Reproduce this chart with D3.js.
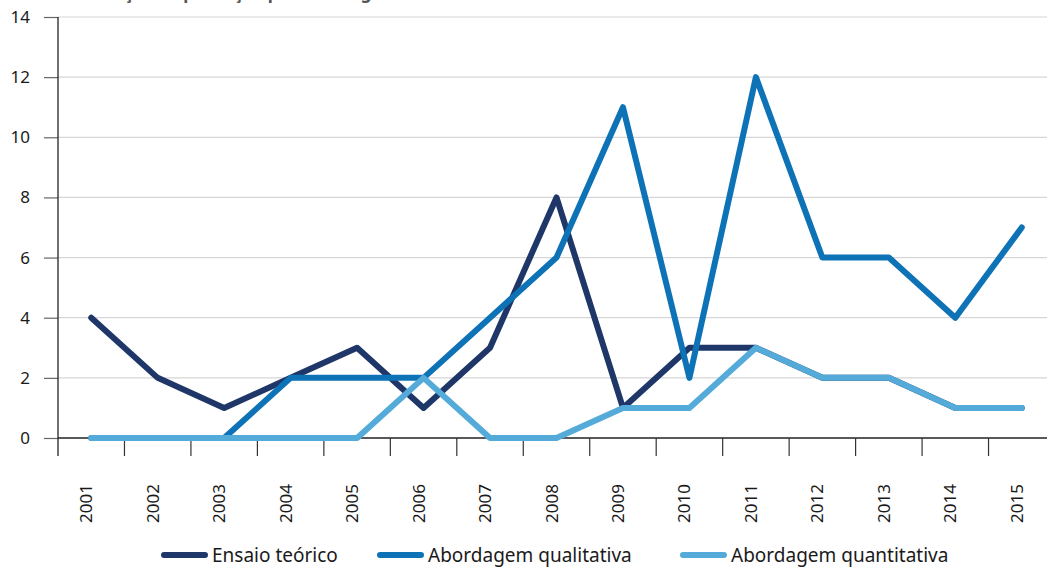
<!DOCTYPE html>
<html>
<head>
<meta charset="utf-8">
<script src="https://cdn.jsdelivr.net/npm/d3@7"></script>
<style>
  html, body { margin: 0; padding: 0; background: #fff; }
  svg { display: block; font-family: "Noto Sans", "Open Sans", sans-serif; }
</style>
</head>
<body>
<svg id="chart" width="1047" height="568"></svg>
<script>
const years = ["2001","2002","2003","2004","2005","2006","2007","2008","2009","2010","2011","2012","2013","2014","2015"];
const ensaioTeorico = [4,2,1,2,3,1,3,8,1,3,3,2,2,1,1];
const abordagemQualitativa = [0,0,0,2,2,2,4,6,11,2,12,6,6,4,7];
const abordagemQuantitativa = [0,0,0,0,0,2,0,0,1,1,3,2,2,1,1];
const yTicks = [0,2,4,6,8,10,12,14];
const seriesNames = ["Ensaio teórico","Abordagem qualitativa","Abordagem quantitativa"];
const seriesColors = ["#1f3768","#0e73b6","#54aad9"];
const titleText = "Evolução da produção por abordagem";

const svg = d3.select("#chart");
const W = 1047;
const x = d3.scaleBand().domain(years).range([58, 1055]).padding(0);
const y = d3.scaleLinear().domain([0,14]).range([438, 17]);
const cx = d => x(d) + x.bandwidth()/2;

// partially visible title at top (cut off by the top edge, as in the source)
svg.append("text").attr("x", 78).attr("y", -1)
  .attr("font-size", 17).attr("font-weight", "bold").attr("fill", "#555")
  .text(titleText);

// gridlines
svg.append("g").selectAll("line").data(yTicks.filter(v => v > 0)).join("line")
  .attr("x1", 58).attr("x2", W).attr("y1", d => y(d)).attr("y2", d => y(d))
  .attr("stroke", "#d6d6d6").attr("stroke-width", 1.2);

// y axis
const yAxis = d3.axisLeft(y).tickValues(yTicks).tickSize(14).tickPadding(14);
const gy = svg.append("g").attr("transform", "translate(58,0)").call(yAxis);
gy.select(".domain").remove();
gy.selectAll(".tick line").attr("stroke", "#666").attr("stroke-width", 1.2);
gy.selectAll(".tick text").attr("font-size", 17).attr("fill", "#1a1a1a")
  .attr("font-family", "\"Noto Sans\", sans-serif");
svg.append("line").attr("x1", 58).attr("x2", 58).attr("y1", y(14)).attr("y2", 456)
  .attr("stroke", "#222").attr("stroke-width", 1.3);

// x axis baseline
svg.append("line").attr("x1", 58).attr("x2", W).attr("y1", y(0)).attr("y2", y(0))
  .attr("stroke", "#222").attr("stroke-width", 1.3);
// band boundary ticks
svg.append("g").selectAll("line").data(years.slice(1)).join("line")
  .attr("x1", d => x(d)).attr("x2", d => x(d)).attr("y1", y(0)).attr("y2", 456)
  .attr("stroke", "#333").attr("stroke-width", 1.2);

// year labels
svg.append("g").selectAll("text").data(years).join("text")
  .attr("transform", d => `translate(${cx(d)+1},484) rotate(-90)`)
  .attr("text-anchor", "end")
  .attr("font-size", 17).attr("fill", "#1a1a1a")
  .text(d => d);

// lines
const seriesData = [ensaioTeorico, abordagemQualitativa, abordagemQuantitativa];
const line = d3.line().x((d,i) => cx(years[i])).y(d => y(d));
svg.append("g").selectAll("path").data(seriesData).join("path")
  .attr("d", d => line(d))
  .attr("fill", "none")
  .attr("stroke", (d,i) => seriesColors[i])
  .attr("stroke-width", 6)
  .attr("stroke-linejoin", "round")
  .attr("stroke-linecap", "round");

// legend
const legendX = [164, 380, 683];
const lg = svg.append("g").selectAll("g").data(seriesNames).join("g")
  .attr("transform", (d,i) => `translate(${legendX[i]},555)`);
lg.append("line").attr("x1", 0).attr("x2", 41).attr("y1", 0).attr("y2", 0)
  .attr("stroke", (d,i) => seriesColors[i]).attr("stroke-width", 6)
  .attr("stroke-linecap", "round");
lg.append("text").attr("x", 48).attr("y", 0).attr("dy", "0.35em")
  .attr("font-size", 19).attr("fill", "#1a1a1a").text(d => d);
</script>
</body>
</html>
